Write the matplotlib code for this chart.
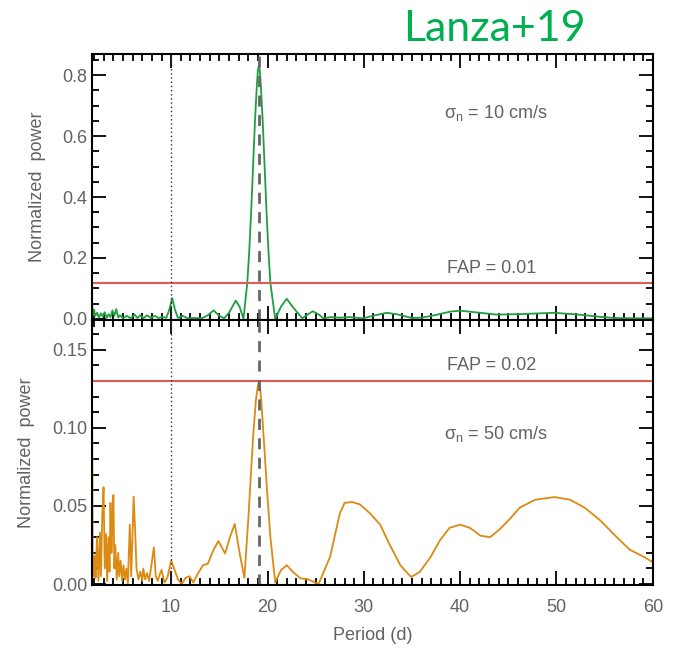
import matplotlib
matplotlib.use("Agg")
import matplotlib.pyplot as plt
from matplotlib.ticker import MultipleLocator

# periodogram, noise sigma = 10 cm/s
per_10 = [1.8, 1.9, 2.0, 2.1, 2.3, 2.5, 2.7, 2.9, 3.1, 3.3, 3.5, 3.7, 3.9, 4.1, 4.3,
          4.5, 4.7, 5.0, 5.4, 5.8, 6.2, 6.5, 6.8, 7.1, 7.5, 7.9, 8.3, 8.7, 9.1, 9.5,
          9.8, 10.1, 10.4, 10.7, 11.2, 11.7, 12.4, 13.2, 13.8, 14.4, 15.0, 15.5, 16.0,
          16.7, 17.1, 17.5, 17.9, 18.1, 18.3, 18.5, 18.7, 18.9, 19.0, 19.1, 19.2, 19.3,
          19.5, 19.7, 19.9, 20.1, 20.3, 20.8, 21.4, 22.0, 22.6, 23.6, 24.2, 24.7, 25.3,
          25.8, 26.6, 27.5, 28.5, 29.9, 31.2, 32.4, 33.6, 35.0, 36.0, 37.5, 39.0, 40.0,
          41.5, 43.8, 46.5, 49.7, 52.0, 54.5, 56.0, 58.0, 60.0]
pow_10 = [0.045, 0.012, 0.03, 0.01, 0.02, 0.005, 0.018, 0.008, 0.022, 0.004, 0.015, 0.006,
          0.028, 0.01, 0.032, 0.005, 0.012, 0.002, 0.01, 0.002, 0.014, 0.003, 0.012, 0.002,
          0.012, 0.003, 0.01, 0.003, 0.006, 0.004, 0.03, 0.068, 0.03, 0.003, 0.01, 0.002,
          0.003, 0.002, 0.012, 0.028, 0.01, 0.002, 0.02, 0.06, 0.04, 0.0, 0.118, 0.22,
          0.35, 0.5, 0.65, 0.77, 0.815, 0.832, 0.815, 0.77, 0.65, 0.5, 0.35, 0.22, 0.118,
          0.0, 0.04, 0.066, 0.04, 0.002, 0.015, 0.025, 0.015, 0.002, 0.006, 0.004, 0.006,
          0.002, 0.012, 0.02, 0.014, 0.003, 0.004, 0.013, 0.024, 0.027, 0.022, 0.014,
          0.016, 0.02, 0.015, 0.007, 0.003, 0.002, 0.002]

# periodogram, noise sigma = 50 cm/s
per_50 = [1.8, 1.85, 1.95, 2.05, 2.15, 2.3, 2.45, 2.6, 2.7, 2.85, 2.98, 3.1, 3.25, 3.35,
          3.5, 3.6, 3.7, 3.8, 3.9, 4.0, 4.1, 4.2, 4.35, 4.5, 4.6, 4.75, 4.9, 5.05, 5.2,
          5.35, 5.5, 5.7, 5.85, 6.1, 6.25, 6.4, 6.6, 6.8, 7.0, 7.1, 7.3, 7.5, 7.7, 7.9,
          8.2, 8.4, 8.6, 8.8, 9.0, 9.3, 9.6, 10.0, 10.3, 10.7, 11.1, 11.5, 11.9, 12.3,
          12.7, 13.3, 13.8, 14.4, 14.9, 15.6, 16.1, 16.6, 17.1, 17.6, 18.0, 18.5, 18.8,
          19.0, 19.1, 19.2, 19.35, 19.6, 19.95, 20.3, 20.8, 21.4, 22.0, 22.6, 23.4, 24.2,
          25.3, 26.5, 27.5, 28.0, 28.8, 29.6, 30.6, 31.7, 32.7, 33.8, 34.9, 35.8, 36.9,
          37.9, 38.9, 40.0, 41.0, 42.1, 43.1, 44.1, 45.2, 46.2, 47.8, 49.8, 51.4, 52.9,
          54.5, 56.1, 57.6, 59.2, 60.0]
pow_50 = [0.1, 0.02, 0.005, 0.018, 0.004, 0.03, 0.002, 0.033, 0.005, 0.045, 0.062, 0.01,
          0.032, 0.002, 0.03, 0.008, 0.052, 0.02, 0.04, 0.057, 0.01, 0.025, 0.003, 0.02,
          0.005, 0.015, 0.002, 0.012, 0.003, 0.01, 0.0, 0.038, 0.005, 0.056, 0.035, 0.01,
          0.003, 0.008, 0.002, 0.01, 0.003, 0.007, 0.002, 0.01, 0.0235, 0.005, 0.002,
          0.006, 0.009, 0.001, 0.004, 0.015, 0.01, 0.003, 0.0, 0.004, 0.005, 0.001, 0.006,
          0.012, 0.013, 0.022, 0.0275, 0.0196, 0.03, 0.0385, 0.02, 0.004, 0.041, 0.094,
          0.118, 0.127, 0.13, 0.127, 0.118, 0.094, 0.06, 0.03, 0.001, 0.009, 0.012, 0.008,
          0.0037, 0.003, 0.0, 0.0175, 0.045, 0.052, 0.0525, 0.051, 0.0455, 0.038, 0.025,
          0.012, 0.0045, 0.0077, 0.017, 0.028, 0.036, 0.038, 0.036, 0.031, 0.03, 0.035,
          0.042, 0.049, 0.054, 0.0557, 0.054, 0.049, 0.041, 0.031, 0.022, 0.017, 0.014]

fap_10 = 0.118
fap_50 = 0.13
p_rot = 19.1

grey = "#626262"
plt.rcParams["font.family"] = ["Liberation Sans", "DejaVu Sans"]

fig = plt.figure(figsize=(6.73, 6.48), dpi=100)
ax1 = fig.add_axes([0.137, 0.506, 0.833, 0.411])
ax2 = fig.add_axes([0.137, 0.097, 0.833, 0.409], sharex=ax1)

ax1.plot(per_10, pow_10, color="#1e9e3e", lw=1.3)
ax2.plot(per_50, pow_50, color="#dc8a12", lw=1.3)

ax1.axhline(fap_10, color="#e05a5a", lw=1.5)
ax2.axhline(fap_50, color="#e05a5a", lw=1.5)

for ax in (ax1, ax2):
    ax.axvline(10, color="#333333", lw=1.0, ls=(0, (1, 2)))
    ax.axvline(p_rot, color="#666666", lw=2.0, ls=(0, (4, 3)))
    ax.tick_params(which="both", direction="in", top=True, right=True,
                   colors="black", labelcolor=grey, labelsize=13, width=1.3)
    ax.tick_params(which="major", length=10)
    ax.tick_params(which="minor", length=5)
    for s in ax.spines.values():
        s.set_linewidth(1.5)
    ax.xaxis.set_major_locator(MultipleLocator(10))
    ax.xaxis.set_minor_locator(MultipleLocator(1))
    ax.set_ylabel("Normalized  power", color=grey, fontsize=13, labelpad=12)

ax1.set_xlim(1.8, 60)
ax1.set_ylim(-0.004, 0.87)
ax1.yaxis.set_major_locator(MultipleLocator(0.2))
ax1.yaxis.set_minor_locator(MultipleLocator(0.05))
ax1.yaxis.set_major_formatter(lambda v, p: f"{v:.1f}")
ax1.tick_params(labelbottom=False)

ax2.set_ylim(-0.0007, 0.169)
ax2.yaxis.set_major_locator(MultipleLocator(0.05))
ax2.yaxis.set_minor_locator(MultipleLocator(0.01))
ax2.yaxis.set_major_formatter(lambda v, p: f"{v:.2f}")
ax2.set_xlabel("Period (d)", color=grey, fontsize=13, labelpad=8)
ax2.tick_params(axis="x", pad=10)

ax1.text(38.3, 0.675, r"σ$_\mathregular{n}$ = 10 cm/s", color=grey, fontsize=13, va="center")
ax1.text(38.6, 0.165, "FAP = 0.01", color=grey, fontsize=13, va="center")
ax2.text(38.6, 0.140, "FAP = 0.02", color=grey, fontsize=13, va="center")
ax2.text(38.3, 0.096, r"σ$_\mathregular{n}$ = 50 cm/s", color=grey, fontsize=13, va="center")

fig.text(0.735, 0.955, "Lanza+19", color="#00b050", fontsize=31,
         family=["Lato", "DejaVu Sans"], ha="center", va="center")

fig.savefig("out.png", dpi=100)
